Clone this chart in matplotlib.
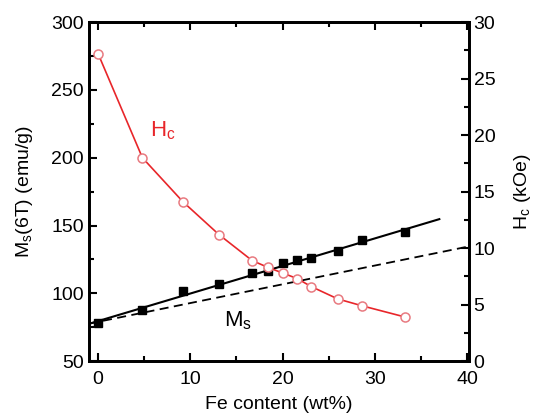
import numpy as np
import matplotlib
matplotlib.use("Agg")
from matplotlib import pyplot as plt
from matplotlib.ticker import MultipleLocator

plt.rcParams['font.family'] = ['Liberation Sans', 'DejaVu Sans']
plt.rcParams['mathtext.fontset'] = 'custom'
plt.rcParams['mathtext.rm'] = 'Liberation Sans'
plt.rcParams['mathtext.it'] = 'Liberation Sans'

# data
fe = [0, 4.8, 9.2, 13.1, 16.7, 18.4, 20.0, 21.6, 23.1, 26.0, 28.6, 33.3]
ms = [78.3, 88, 102, 107, 115, 116.6, 122, 124.5, 125.7, 131.4, 139.5, 145.4]
hc = [27.2, 18.0, 14.1, 11.2, 8.9, 8.3, 7.8, 7.3, 6.6, 5.5, 4.9, 3.9]

fit_x = [-1, 37]
fit_y = [77.5, 154.7]
dash_x = [-1, 40]
dash_y = [77.6, 134.3]

red = '#e8262a'

fig = plt.figure(figsize=(5.42, 4.17), dpi=100)
ax = fig.add_axes([0.164, 0.134, 0.701, 0.813])
ax2 = ax.twinx()

ax.plot(fit_x, fit_y, color='black', lw=1.5)
ax.plot(dash_x, dash_y, color='black', lw=1.3, ls=(0, (5, 3)))
ax.plot(fe, ms, ls='none', marker='s', ms=5.5, color='black')

ax2.plot(fe, hc, color=red, lw=1.2, marker='o', ms=6.5, mfc='white',
         mec='#e87a80', mew=1.1)

ax.set_xlim(-1, 40.2)
ax.set_ylim(50, 300)
ax2.set_ylim(0, 30)

ax.xaxis.set_major_locator(MultipleLocator(10))
ax.xaxis.set_minor_locator(MultipleLocator(5))
ax.yaxis.set_major_locator(MultipleLocator(50))
ax.yaxis.set_minor_locator(MultipleLocator(25))
ax2.yaxis.set_major_locator(MultipleLocator(5))
ax2.yaxis.set_minor_locator(MultipleLocator(2.5))

ax.tick_params(which='both', direction='in', top=True, width=1.5, labelsize=14)
ax.tick_params(which='major', length=6)
ax.tick_params(which='minor', length=3.5)
ax.tick_params(axis='x', pad=7)
ax2.tick_params(which='both', direction='in', width=1.5, labelsize=14)
ax2.tick_params(which='major', length=6)
ax2.tick_params(which='minor', length=3.5)

for a in (ax, ax2):
    for s in a.spines.values():
        s.set_linewidth(2)

ax.set_xlabel('Fe content (wt%)', fontsize=14, labelpad=6)
ax.set_ylabel(r'M$_\mathregular{s}$(6T) (emu/g)', fontsize=14, labelpad=12)
ax2.set_ylabel(r'H$_\mathregular{c}$ (kOe)', fontsize=14, labelpad=12)

ax.text(7.0, 220, r'H$_\mathregular{c}$', color=red, fontsize=16, ha='center', va='center')
ax.text(15.2, 80, r'M$_\mathregular{s}$', color='black', fontsize=16, ha='center', va='center')

fig.savefig('out.png', dpi=100)
